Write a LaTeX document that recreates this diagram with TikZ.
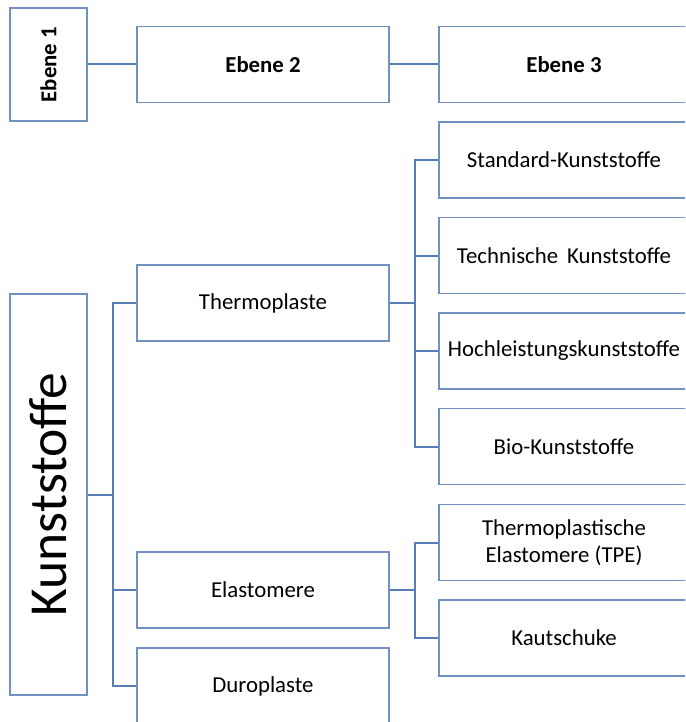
\documentclass[tikz,border=0pt]{standalone}
\usepackage{fontspec}
\setmainfont{Carlito}
\usetikzlibrary{positioning}
\definecolor{boxline}{RGB}{112,145,193}
\definecolor{linkline}{RGB}{88,125,180}
\tikzset{
    box/.style={rectangle,draw=boxline,line width=1.3pt,minimum width=252pt,minimum height=76pt,inner sep=0pt,align=center,font=\fontsize{22.8}{27}\selectfont},
    leaf/.style={box,minimum width=250pt},
    tall/.style={box,minimum width=77pt},
    link/.style={-,draw=linkline,line width=2pt}
}

\begin{document}
\begin{tikzpicture}[x=1pt,y=-1pt]

                \clip (0,0) rectangle (685,722);

                \node[tall] (e1) [minimum height=113pt] at (48.5,64.5)         {\rotatebox{90}{\bfseries Ebene 1}};
                \node[box]  (e2) [right=48.7pt of e1]                           {\bfseries Ebene 2};
                \node[leaf] (e3) [right=48.7pt of e2]                           {\bfseries Ebene 3};

                \node[tall] (kst) [minimum height=401pt] at (48.5,494.5)        {\rotatebox{90}{\fontsize{53.5}{60}\selectfont Kunststoffe}};

                \node[box]  (th) at (263,303)                                   {Thermoplaste};
                \node[box]  (el) at (263,590)                                   {Elastomere};
                \node[box]  (du) at (263,686)                                   {Duroplaste};

                \node[leaf] (sk) at (564,160)                                   {Standard-Kunststoffe};
                \node[leaf] (tk) [below=18.2pt of sk]                           {Technische\, Kunststoffe};
                \node[leaf] (hk) [below=18.2pt of tk]                           {Hochleistungskunststoffe};
                \node[leaf] (bk) [below=18.2pt of hk]                           {Bio-Kunststoffe};

                \node[leaf] (tpe) at (564,542.5)                                {Thermoplastische\\Elastomere (TPE)};
                \node[leaf] (ka)  [below=18.2pt of tpe]                         {Kautschuke};

                \coordinate[right=25pt of kst.east] (j1);
                \coordinate[right=25pt of th.east]  (j2);
                \coordinate[right=25pt of el.east]  (j3);

                \draw[link] (e1) -- (e2);
                \draw[link] (e2) -- (e3);

                \draw[link] (kst.east) -- (j1);
                \foreach \n in {th,el,du}
                    \draw[link] (j1) |- (\n.west);

                \draw[link] (th.east) -- (j2);
                \foreach \n in {sk,tk,hk,bk}
                    \draw[link] (j2) |- (\n.west);

                \draw[link] (el.east) -- (j3);
                \foreach \n in {tpe,ka}
                    \draw[link] (j3) |- (\n.west);

            \end{tikzpicture}
\end{document}
